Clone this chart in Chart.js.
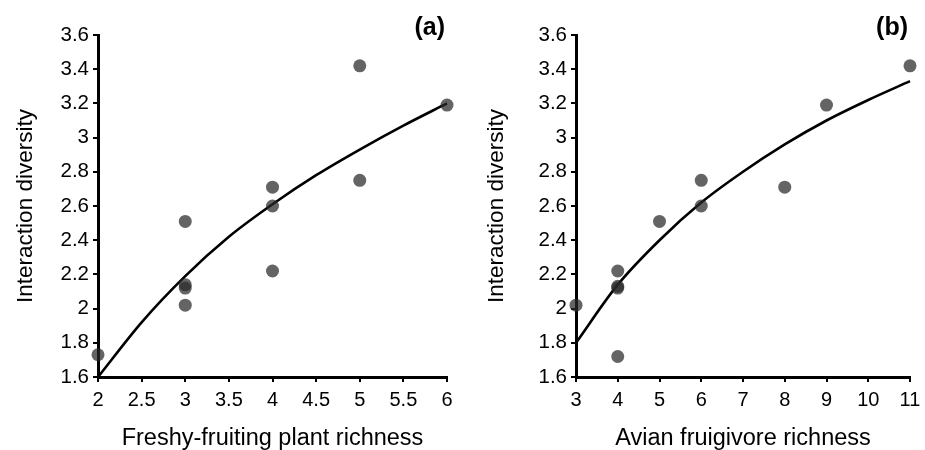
<!DOCTYPE html>
<html>
<head>
<meta charset="utf-8">
<script src="https://cdn.jsdelivr.net/npm/chart.js@4"></script>
<style>
  body { margin: 0; background: #fff; }
  #wrap { position: relative; width: 925px; height: 450px; }
  .panel { position: absolute; top: 0; height: 450px; }
</style>
</head>
<body>
<div id="wrap">
  <div class="panel" style="left:0;width:460px"><canvas id="chartA"></canvas></div>
  <div class="panel" style="left:460px;width:465px"><canvas id="chartB"></canvas></div>
</div>
<script>
// Panel (a): plant richness vs interaction diversity
const plantRichness = [2, 3, 3, 3, 3, 4, 4, 4, 5, 5, 6];
const plantDiversity = [1.73, 2.51, 2.14, 2.12, 2.02, 2.71, 2.60, 2.22, 3.42, 2.75, 3.19];
// fitted curve
const plantCurveX = [2, 2.5, 3, 3.5, 4, 4.5, 5, 5.5, 6];
const plantCurveY = [1.60, 1.92, 2.19, 2.42, 2.61, 2.78, 2.93, 3.07, 3.20];

// Panel (b): avian richness vs interaction diversity
const birdRichness = [3, 4, 4, 4, 4, 5, 6, 6, 8, 9, 11];
const birdDiversity = [2.02, 2.22, 2.13, 2.12, 1.72, 2.51, 2.75, 2.60, 2.71, 3.19, 3.42];
const birdCurveX = [3, 4, 5, 6, 7, 8, 9, 10, 11];
const birdCurveY = [1.80, 2.14, 2.40, 2.62, 2.80, 2.96, 3.10, 3.22, 3.33];

const yTicks = [1.6, 1.8, 2, 2.2, 2.4, 2.6, 2.8, 3, 3.2, 3.4, 3.6];

const FONT = "'Liberation Sans', Arial, sans-serif";
Chart.defaults.font.family = FONT;
Chart.defaults.color = "#000";

function toPoints(xs, ys) {
  return xs.map((x, i) => ({ x: x, y: ys[i] }));
}

// panel letter (a)/(b) in the top right corner
const panelLabel = {
  id: "panelLabel",
  afterDraw(chart, args, opts) {
    const c = chart.ctx;
    c.save();
    c.font = "bold 25px " + FONT;
    c.fillStyle = "#000";
    c.textAlign = "right";
    c.textBaseline = "middle";
    c.fillText(opts.text, chart.chartArea.right - 2, 28);
    c.restore();
  }
};

function makeChart(id, opt) {
  const ctx = document.getElementById(id).getContext("2d");
  return new Chart(ctx, {
    type: "scatter",
    data: {
      datasets: [
        {
          data: toPoints(opt.xs, opt.ys),
          backgroundColor: "rgba(40,40,40,0.72)",
          borderWidth: 0,
          pointRadius: 6.5,
          pointHoverRadius: 6.5,
          clip: false
        },
        {
          type: "line",
          data: toPoints(opt.curveX, opt.curveY),
          borderColor: "#000",
          borderWidth: 2.6,
          pointRadius: 0,
          cubicInterpolationMode: "monotone",
          fill: false,
          clip: false
        }
      ]
    },
    options: {
      responsive: false,
      animation: false,
      layout: { padding: { top: 35, right: opt.padRight, bottom: 0, left: 0 } },
      plugins: {
        legend: { display: false },
        tooltip: { enabled: false },
        panelLabel: { text: opt.label }
      },
      scales: {
        x: {
          type: "linear",
          min: opt.xMin,
          max: opt.xMax,
          afterBuildTicks: (s) => { s.ticks = opt.xTicks.map(v => ({ value: v })); },
          afterFit: (s) => { s.height = 73; s.paddingLeft = 0; s.paddingRight = 0; },
          border: { color: "#000", width: 3 },
          grid: { display: true, drawOnChartArea: false, drawTicks: true, tickLength: 5, color: "#000", lineWidth: 2 },
          ticks: { font: { size: 20 }, padding: 6, maxRotation: 0, autoSkip: false, callback: (v) => String(v) },
          title: { display: true, text: opt.xTitle, font: { size: 23.5, lineHeight: 1 }, padding: { top: 0, bottom: 0 } }
        },
        y: {
          min: 1.6,
          max: 3.6,
          afterBuildTicks: (s) => { s.ticks = yTicks.map(v => ({ value: v })); },
          afterFit: (s) => { s.width = opt.yWidth; s.paddingTop = 0; s.paddingBottom = 0; },
          border: { color: "#000", width: 3 },
          grid: { display: true, drawOnChartArea: false, drawTicks: true, tickLength: 5, color: "#000", lineWidth: 2 },
          ticks: { font: { size: 20.5 }, padding: 4, callback: (v) => String(v) },
          title: { display: true, text: "Interaction diversity", font: { size: 22.5, lineHeight: 1 }, padding: { top: opt.yTitlePad, bottom: 0 } }
        }
      }
    },
    plugins: [panelLabel]
  });
}

document.getElementById("chartA").width = 460;
document.getElementById("chartA").height = 450;
document.getElementById("chartB").width = 465;
document.getElementById("chartB").height = 450;

makeChart("chartA", {
  xs: plantRichness, ys: plantDiversity,
  curveX: plantCurveX, curveY: plantCurveY,
  xMin: 2, xMax: 6, xTicks: [2, 2.5, 3, 3.5, 4, 4.5, 5, 5.5, 6],
  xTitle: "Freshy-fruiting plant richness",
  yWidth: 98, yTitlePad: 15, padRight: 13, label: "(a)"
});

makeChart("chartB", {
  xs: birdRichness, ys: birdDiversity,
  curveX: birdCurveX, curveY: birdCurveY,
  xMin: 3, xMax: 11, xTicks: [3, 4, 5, 6, 7, 8, 9, 10, 11],
  xTitle: "Avian fruigivore richness",
  yWidth: 116, yTitlePad: 26, padRight: 15, label: "(b)"
});
</script>
</body>
</html>
